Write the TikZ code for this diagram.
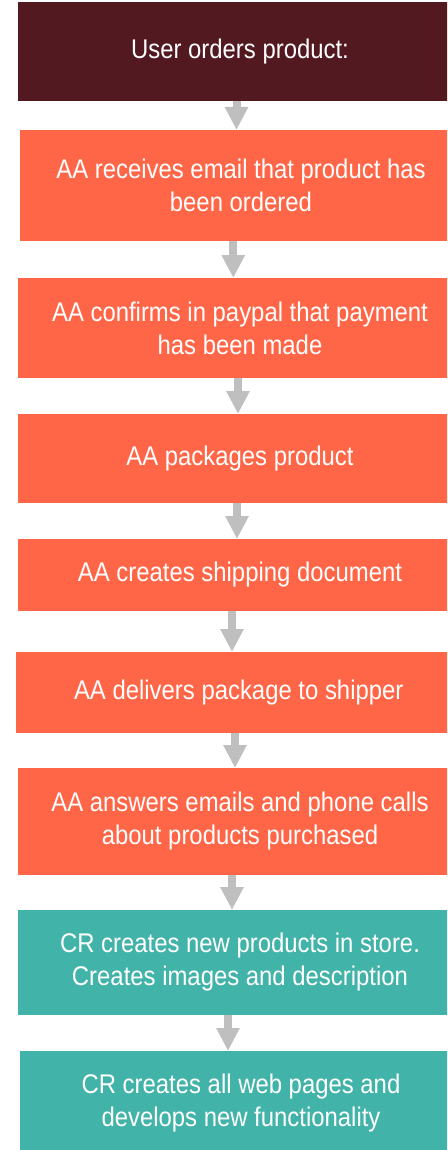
\documentclass[tikz,border=0pt]{standalone}
\usepackage{fontspec}
\setmainfont[FakeStretch=0.885]{Liberation Sans}
\usepackage{xcolor}
\usetikzlibrary{arrows.meta}
\definecolor{boxmaroon}{RGB}{82,25,32}
\definecolor{boxorange}{RGB}{255,102,71}
\definecolor{boxteal}{RGB}{66,179,168}
\definecolor{arrowgrey}{RGB}{191,191,191}

\begin{document}
\begin{tikzpicture}[x=1pt,y=-1pt]
        \tikzstyle{every node}+=[inner sep=0pt,outer sep=0pt]
        \tikzstyle{stepbox}=[rectangle,text=white,align=center,font=\fontsize{27}{33}\selectfont]
        \tikzstyle{flowarrow}=[arrowgrey,line width=8pt,-{Triangle[width=22pt,length=23pt]}]
        \useasboundingbox (0,0) rectangle (447,1150);
        \clip (0,0) rectangle (447,1150);
        \node [stepbox,fill=boxmaroon,minimum width=444pt,minimum height=99pt] (b1) at (240,51.5) {User orders product:};
        \node [stepbox,fill=boxorange,minimum width=442pt,minimum height=111pt] (b2) at (241,185.5) {AA receives email that product has\\been ordered};
        \node [stepbox,fill=boxorange,minimum width=444pt,minimum height=100pt] (b3) at (240,328) {AA confirms in paypal that payment\\has been made};
        \node [stepbox,fill=boxorange,minimum width=444pt,minimum height=89pt] (b4) at (240,458.5) {AA packages product};
        \node [stepbox,fill=boxorange,minimum width=444pt,minimum height=72pt] (b5) at (240,575) {AA creates shipping document};
        \node [stepbox,fill=boxorange,minimum width=446.5pt,minimum height=81pt] (b6) at (238.75,692.5) {AA delivers package to shipper};
        \node [stepbox,fill=boxorange,minimum width=444pt,minimum height=107pt] (b7) at (240,821.5) {AA answers emails and phone calls\\about products purchased};
        \node [stepbox,fill=boxteal,minimum width=444pt,minimum height=105pt] (b8) at (240,962.5) {CR creates new products in store.\\Creates images and description};
        \node [stepbox,fill=boxteal,minimum width=442pt,minimum height=104pt] (b9) at (241,1103) {CR creates all web pages and\\develops new functionality};
        \foreach \a/\b/\dx in {b1/b2/-3.5,b2/b3/-7.7,b3/b4/-2,b4/b5/-3,b5/b6/-8,b6/b7/-3.75,b7/b8/-8,b8/b9/-12}
            \draw [flowarrow] ([xshift=\dx pt]\a.south) -- ([xshift=\dx pt]\a.south |- \b.north);
\end{tikzpicture}
\end{document}
